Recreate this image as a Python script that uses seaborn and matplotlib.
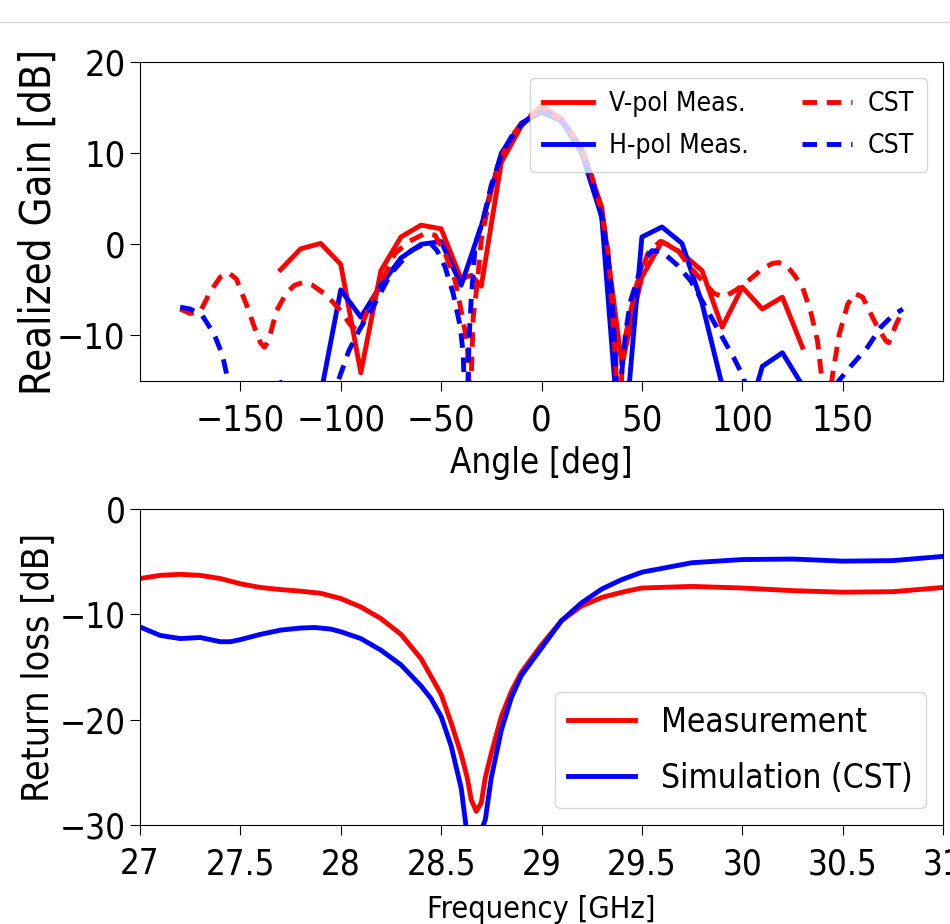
import numpy as np
import pandas as pd
import matplotlib
matplotlib.use("Agg")
import matplotlib.pyplot as plt
import seaborn as sns
from matplotlib.lines import Line2D

# ---- radiation pattern (top) ----
ang_meas_v = [-130, -120, -110, -100, -90, -80, -70, -60, -50, -40, -35, -30, -20, -10, 0,
              10, 20, 30, 40, 50, 60, 70, 80, 90, 100, 110, 120, 130]
gain_meas_v = [-2.8, -0.5, 0.1, -2.2, -14.1, -2.9, 0.8, 2.1, 1.7, -3.8, -3.4, -4.6, 9.0, 13.0, 15.2,
               13.8, 10.5, 4.1, -13.2, -3.6, 0.3, -1.0, -2.9, -9.1, -4.7, -7.1, -5.8, -11.3]

ang_meas_h = [-130, -120, -110, -100, -90, -80, -70, -60, -50, -40, -30, -20, -10, 0,
              10, 20, 30, 40, 50, 60, 70, 80, 90, 100, 110, 120, 130]
gain_meas_h = [-22.0, -21.0, -16.5, -5.0, -8.0, -4.5, -1.5, 0.0, 0.3, -4.5, 2.0, 10.0, 13.3, 14.5,
               13.5, 10.0, 3.0, -25.0, 0.8, 1.9, 0.1, -6.5, -15.5, -21.0, -13.4, -11.9, -15.5]

ang_cst_v = [-180, -175, -170, -165, -160, -156, -152, -147, -143, -140, -138, -136, -132, -127,
             -123, -119, -114, -107, -100, -95, -92, -89, -86, -80, -73, -66, -58, -53, -48,
             -43, -40, -37, -35.5, -34, -32, -30, -25, -20, -15, -10, -5, 0, 5, 10, 15, 20,
             25, 30, 33, 35, 37, 38.5, 40, 42, 47, 53, 59, 65, 68, 74, 80, 86, 91, 97, 103,
             110, 115, 118, 122, 126, 130, 134, 137.5, 139.5, 141, 143, 145, 148.3, 152.5,
             156, 160, 162.4, 167.4, 171.6, 173, 176.6, 180]
gain_cst_v = [-7.1, -7.6, -7.4, -5.2, -3.6, -3.1, -3.8, -6.6, -9.1, -10.8, -11.3, -10.6, -7.3, -5.3,
              -4.5, -4.2, -4.5, -5.6, -7.3, -8.9, -9.4, -8.6, -6.9, -4.3, -1.0, 0.3, 1.2, 1.0, -1.0,
              -4.0, -7.3, -10.8, -18.0, -8.0, -4.3, 0.5, 6.0, 9.5, 11.8, 13.2, 14.2, 14.7, 14.4, 13.6,
              12.2, 10.5, 7.5, 3.5, -0.5, -6.0, -13.0, -25.0, -14.0, -9.9, -4.7, -1.0, 0.3, -0.2, -0.7,
              -2.5, -4.0, -5.4, -5.8, -5.0, -4.0, -2.7, -2.1, -2.0, -2.3, -3.4, -4.7, -7.3, -10.6,
              -14.5, -22.0, -18.0, -14.3, -9.9, -6.6, -5.4, -5.8, -6.9, -9.1, -10.6, -10.8, -8.8, -7.3]

ang_cst_h = [-180, -175, -169, -163, -159, -157, -153, -145, -137, -131, -126, -118, -108, -101,
             -99, -96, -91, -84, -75, -65, -56, -52, -48, -44, -40.4, -39, -37.5, -36, -35, -33,
             -29, -25, -20, -15, -10, -5, 0, 5, 10, 15, 20, 25, 30, 33, 35, 37, 38.5, 40, 42,
             44.4, 50.2, 55, 60, 67.7, 74.3, 81, 89.3, 95.9, 100.9, 104, 115, 130, 140, 148,
             154, 162.4, 169, 175, 180]
gain_cst_h = [-6.9, -7.1, -7.8, -9.9, -12.1, -14.1, -20.0, -25.0, -18.0, -14.6, -18.0, -25.0, -20.0,
              -14.8, -13.6, -11.7, -9.5, -6.9, -3.2, -0.7, 0.3, -0.7, -2.5, -5.4, -9.1, -12.1, -22.0,
              -10.0, -6.0, 0.0, 2.8, 6.5, 9.8, 11.8, 13.1, 14.0, 14.5, 14.3, 13.5, 12.2, 10.3, 7.3,
              3.0, -1.0, -5.5, -13.0, -25.0, -14.0, -9.5, -6.2, -2.1, -0.7, -0.8, -2.3, -4.0, -6.6,
              -9.9, -12.5, -14.7, -22.0, -25.0, -20.0, -22.0, -15.0, -13.4, -11.3, -9.1, -7.8, -7.1]

# ---- return loss (bottom) ----
freq_meas = [27.0, 27.1, 27.2, 27.3, 27.4, 27.5, 27.6, 27.7, 27.8, 27.9, 28.0, 28.1, 28.2, 28.3,
             28.4, 28.45, 28.5, 28.55, 28.6, 28.63, 28.65, 28.675, 28.7, 28.72, 28.75, 28.8,
             28.85, 28.9, 29.0, 29.1, 29.2, 29.3, 29.4, 29.5, 29.75, 30.0, 30.25, 30.5, 30.75, 31.0]
rl_meas = [-6.6, -6.3, -6.2, -6.3, -6.6, -7.1, -7.45, -7.65, -7.8, -8.0, -8.5, -9.3, -10.4, -11.9,
           -14.2, -15.9, -17.6, -20.3, -23.3, -25.5, -27.6, -28.7, -27.9, -25.5, -23.2, -19.7,
           -17.3, -15.5, -12.9, -10.6, -9.2, -8.4, -7.9, -7.5, -7.35, -7.5, -7.75, -7.9, -7.85, -7.45]

freq_sim = [27.0, 27.1, 27.2, 27.3, 27.4, 27.45, 27.5, 27.6, 27.7, 27.8, 27.87, 27.95, 28.0, 28.1,
            28.2, 28.3, 28.4, 28.45, 28.5, 28.55, 28.6, 28.63, 28.66, 28.69, 28.72, 28.75, 28.8,
            28.85, 28.9, 29.0, 29.1, 29.2, 29.3, 29.4, 29.5, 29.75, 30.0, 30.25, 30.5, 30.75, 31.0]
rl_sim = [-11.2, -12.0, -12.3, -12.2, -12.6, -12.6, -12.4, -11.9, -11.5, -11.3, -11.25, -11.4,
          -11.65, -12.3, -13.4, -14.8, -16.8, -18.0, -19.7, -22.5, -26.5, -31.0, -40.0, -31.0,
          -29.5, -25.5, -21.0, -17.9, -15.8, -13.2, -10.6, -8.9, -7.6, -6.7, -6.0, -5.1, -4.8,
          -4.75, -4.95, -4.9, -4.5]

plt.rcParams['font.family'] = ['DejaVu Sans']
plt.rcParams['font.stretch'] = 'condensed'

fig = plt.figure(figsize=(9.5, 9.24), dpi=100)
ax1 = fig.add_axes([140 / 950, 1 - 381 / 924, 803 / 950, 319 / 924])
ax2 = fig.add_axes([140 / 950, 1 - 825 / 924, 803 / 950, 316 / 924])

lw = 3.5
sns.lineplot(x=ang_meas_v, y=gain_meas_v, ax=ax1, color='red', lw=lw, sort=False, label='V-pol Meas.')
sns.lineplot(x=ang_meas_h, y=gain_meas_h, ax=ax1, color='blue', lw=lw, sort=False, label='H-pol Meas.')
sns.lineplot(x=ang_cst_v, y=gain_cst_v, ax=ax1, color='red', lw=lw, sort=False, label='CST')
sns.lineplot(x=ang_cst_h, y=gain_cst_h, ax=ax1, color='blue', lw=lw, sort=False, label='CST')
for l in ax1.lines[2:]:
    l.set_linestyle((0, (3, 2)))
ax1.set_xlim(-200, 200)
ax1.set_ylim(-15, 20)
ax1.set_xticks([-150, -100, -50, 0, 50, 100, 150])
ax1.set_yticks([-10, 0, 10, 20])
ax1.tick_params(labelsize=26, length=7)
ax1.tick_params(axis='x', pad=9)
ax1.set_xlabel('Angle [deg]', fontsize=25, labelpad=6)
ax1.set_ylabel('Realized Gain [dB]', fontsize=30, labelpad=-2)
h, lab = ax1.get_legend_handles_labels()
ax1.legend(h, lab, ncol=2, loc='upper right', fontsize=19, handlelength=1.9,
           handletextpad=0.6, labelspacing=0.6, borderpad=0.5, borderaxespad=0.6)

sns.lineplot(x=freq_meas, y=rl_meas, ax=ax2, color='red', lw=lw, sort=False, label='Measurement')
sns.lineplot(x=freq_sim, y=rl_sim, ax=ax2, color='blue', lw=lw, sort=False, label='Simulation (CST)')
ax2.set_xlim(27, 31)
ax2.set_ylim(-30, 0)
ax2.set_xticks([27, 27.5, 28, 28.5, 29, 29.5, 30, 30.5, 31])
ax2.set_xticklabels(['27', '27.5', '28', '28.5', '29', '29.5', '30', '30.5', '31'])
ax2.set_yticks([-30, -20, -10, 0])
ax2.tick_params(labelsize=25, length=7)
ax2.tick_params(axis='x', pad=9)
ax2.set_xlabel('Frequency [GHz]', fontsize=22, labelpad=10)
ax2.set_ylabel('Return loss [dB]', fontsize=27, labelpad=2)
ax2.legend(loc='lower right', fontsize=24, labelspacing=0.7)

fig.add_artist(Line2D([0, 1], [1 - 22 / 924, 1 - 22 / 924], color='#d8d8d8', lw=1))

fig.savefig('out.png', dpi=100)
